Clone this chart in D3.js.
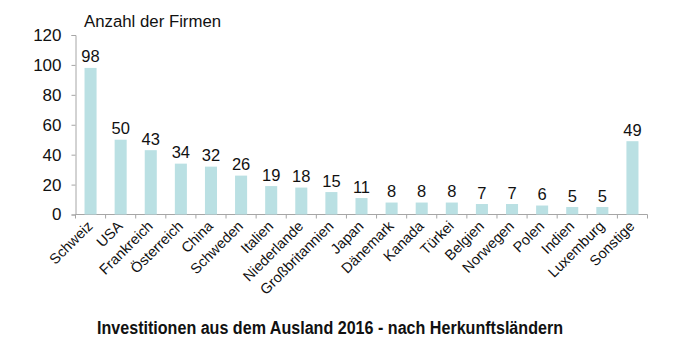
<!DOCTYPE html>
<html><head><meta charset="utf-8">
<script src="https://cdn.jsdelivr.net/npm/d3@7"></script>
<style>body{margin:0;background:#fff;}svg{display:block;font-family:"Liberation Sans",Arial,sans-serif;}</style>
</head><body>
<svg id="c" width="700" height="360"></svg>
<script>
const categories = ["Schweiz","USA","Frankreich","Österreich","China","Schweden","Italien","Niederlande","Großbritannien","Japan","Dänemark","Kanada","Türkei","Belgien","Norwegen","Polen","Indien","Luxemburg","Sonstige"];
const values = [98,50,43,34,32,26,19,18,15,11,8,8,8,7,7,6,5,5,49];
const yTicks = [0,20,40,60,80,100,120];
const yTitle = "Anzahl der Firmen";
const chartTitle = "Investitionen aus dem Ausland 2016 - nach Herkunftsländern";

const svg = d3.select("#c");
const x = d3.scaleBand().domain(categories).range([75.5, 647.5]).paddingInner(0.6).paddingOuter(0.3);
const y = d3.scaleLinear().domain([0,120]).range([214.5, 35]);
const axisColor = "#a6a6a6";

// y axis
const ya = svg.append("g").attr("transform","translate(75.5,0)")
  .call(d3.axisLeft(y).tickValues(yTicks).tickSize(4).tickPadding(10).tickFormat(d3.format("d")));
ya.select(".domain").attr("stroke",axisColor);
ya.selectAll(".tick line").attr("stroke",axisColor);
ya.selectAll(".tick text").attr("font-size","17px").attr("fill","#111").attr("font-family","Liberation Sans, Arial, sans-serif");

// x axis
const step = x.step();
const xa = svg.append("g").attr("transform","translate(0,214.5)");
xa.append("line").attr("x1",75.5).attr("x2",647.5).attr("stroke",axisColor);
const bounds = categories.map((c,i)=>x(c)+x.bandwidth()/2 - step/2).concat([647.5]);
xa.selectAll("line.tk").data(bounds).join("line").attr("class","tk")
  .attr("x1",d=>d).attr("x2",d=>d).attr("y1",0).attr("y2",4).attr("stroke",axisColor);

// bars
svg.append("g").selectAll("rect").data(values).join("rect")
  .attr("x",(d,i)=>x(categories[i])).attr("width",x.bandwidth())
  .attr("y",d=>y(d)).attr("height",d=>y(0)-y(d))
  .attr("fill","#bae0e3");

// value labels
svg.append("g").selectAll("text").data(values).join("text")
  .attr("x",(d,i)=>x(categories[i])+x.bandwidth()/2)
  .attr("y",d=>y(d)-5.5)
  .attr("text-anchor","middle").attr("font-size","16.5px").attr("fill","#111")
  .text(d=>d);

// category labels
svg.append("g").selectAll("text").data(categories).join("text")
  .attr("transform",c=>`translate(${x(c)+x.bandwidth()/2+3},${227}) rotate(-45)`)
  .attr("text-anchor","end").attr("font-size","14.5px").attr("fill","#111")
  .text(c=>c);

// y title
svg.append("text").attr("x",84).attr("y",27).attr("font-size","16.8px").attr("fill","#111").text(yTitle);

// chart title
svg.append("text").attr("x",330).attr("y",334).attr("text-anchor","middle")
  .attr("font-size","18px").attr("font-weight","bold").attr("fill","#111")
  .attr("textLength",466).attr("lengthAdjust","spacingAndGlyphs")
  .text(chartTitle);
</script>
</body></html>
